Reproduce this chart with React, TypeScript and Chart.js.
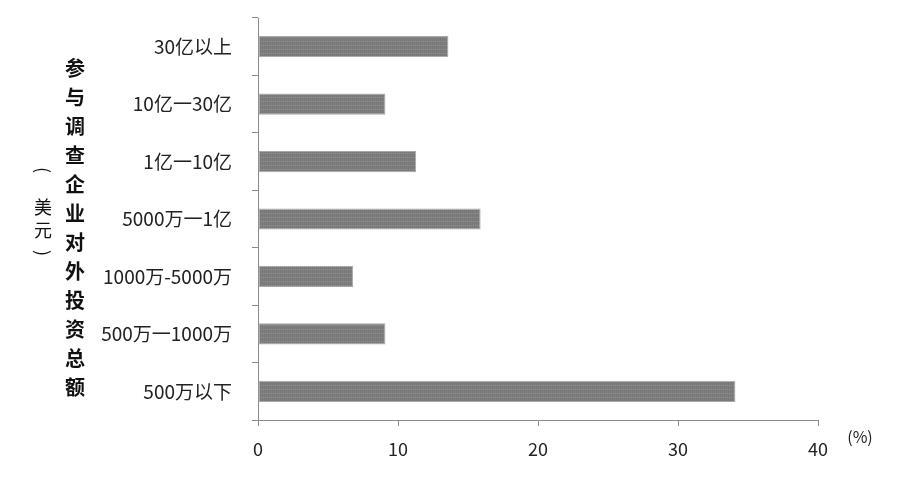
import React, { useEffect, useRef } from "react";
import { Chart, registerables } from "chart.js";

Chart.register(...registerables);

const categories = ["30亿以上", "10亿一30亿", "1亿一10亿", "5000万一1亿", "1000万-5000万", "500万一1000万", "500万以下"];
const shares = [13.6, 9.1, 11.3, 15.9, 6.8, 9.1, 34.1];
const axisTitleChars = ["参", "与", "调", "查", "企", "业", "对", "外", "投", "资", "总", "额"];
const unitChars = ["美", "元"];
const xUnit = "(%)";

const CJK = "'Noto Sans CJK SC', sans-serif";

function makePattern(): CanvasPattern | string {
  const c = document.createElement("canvas");
  c.width = 4;
  c.height = 4;
  const g = c.getContext("2d");
  if (!g) return "#7b7b7b";
  g.fillStyle = "#808080";
  g.fillRect(0, 0, 4, 4);
  g.fillStyle = "#767676";
  g.fillRect(0, 0, 1, 4);
  g.fillRect(2, 0, 1, 4);
  g.fillStyle = "#868686";
  g.fillRect(0, 1, 4, 1);
  const p = g.createPattern(c, "repeat");
  return p || "#7b7b7b";
}

const titlePlugin = {
  id: "verticalTitles",
  afterDraw(chart: any) {
    const ctx = chart.ctx as CanvasRenderingContext2D;
    ctx.save();
    ctx.fillStyle = "#111";
    ctx.textAlign = "center";
    ctx.textBaseline = "middle";
    ctx.font = `bold 20px ${CJK}`;
    axisTitleChars.forEach((ch, i) => {
      ctx.fillText(ch, 75, 68 + i * 29);
    });
    ctx.font = `18px ${CJK}`;
    const drawRot = (s: string, x: number, y: number) => {
      ctx.save();
      ctx.translate(x, y);
      ctx.rotate(Math.PI / 2);
      ctx.fillText(s, 0, 0);
      ctx.restore();
    };
    drawRot("(", 43, 170);
    ctx.fillText(unitChars[0], 43, 207);
    ctx.fillText(unitChars[1], 43, 230);
    drawRot(")", 43, 253);
    ctx.font = `16px ${CJK}`;
    ctx.fillStyle = "#222";
    ctx.fillText(xUnit, 860, 437);
    ctx.restore();
  },
};

export default function App() {
  const ref = useRef<HTMLCanvasElement>(null);
  useEffect(() => {
    if (!ref.current) return;
    const chart = new Chart(ref.current, {
      type: "bar",
      data: {
        labels: categories,
        datasets: [
          {
            data: shares,
            backgroundColor: makePattern() as any,
            borderColor: "#a8a8a8",
            borderWidth: 1,
            borderSkipped: false,
            categoryPercentage: 1,
            barPercentage: 0.37,
          },
        ],
      },
      options: {
        indexAxis: "y",
        responsive: false,
        animation: false,
        layout: { padding: { top: 18, right: 82, left: 0, bottom: 0 } },
        plugins: { legend: { display: false }, tooltip: { enabled: false } },
        scales: {
          x: {
            min: 0,
            max: 40,
            ticks: { stepSize: 10, color: "#222", font: { size: 18, family: CJK }, padding: 12 },
            grid: { drawOnChartArea: false, drawTicks: true, tickLength: 6, color: "#8a8a8a" },
            border: { color: "#8a8a8a", width: 1 },
            afterFit: (s: any) => {
              s.height = 67;
              s.paddingLeft = 0;
              s.paddingRight = 0;
            },
          },
          y: {
            ticks: { color: "#222", font: { size: 19, family: CJK }, padding: 20 },
            grid: { drawOnChartArea: false, drawTicks: true, tickLength: 6, color: "#8a8a8a", offset: true },
            border: { color: "#8a8a8a", width: 1 },
            afterFit: (s: any) => {
              s.width = 258;
              s.paddingTop = 0;
              s.paddingBottom = 0;
            },
          },
        },
      },
      plugins: [titlePlugin],
    });
    return () => chart.destroy();
  }, []);
  return (
    <div style={{ position: "fixed", left: 0, top: 0, width: 900, height: 487, background: "#fff" }}>
      <canvas ref={ref} width={900} height={487} />
    </div>
  );
}
